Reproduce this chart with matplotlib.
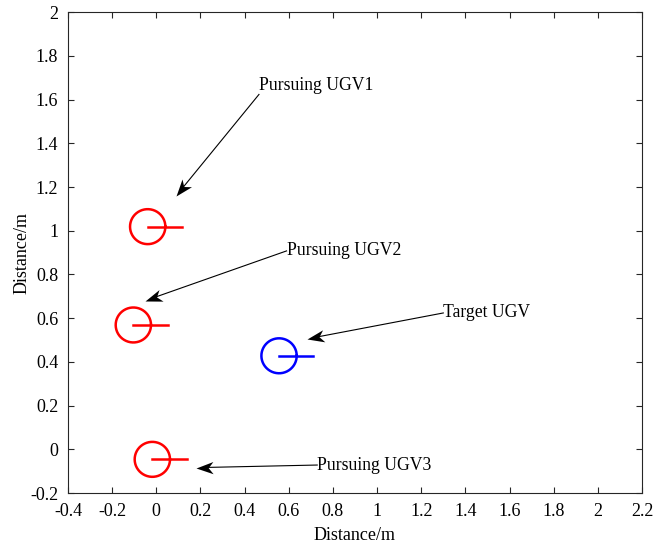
import numpy as np
import matplotlib
matplotlib.use("Agg")
import matplotlib.pyplot as plt
from matplotlib.markers import MarkerStyle
from matplotlib.path import Path
from matplotlib.transforms import Affine2D

plt.rcParams['font.family'] = ['Liberation Serif', 'DejaVu Serif']

# Vehicle states
pursuer_x = [-0.039, -0.104, -0.018]
pursuer_y = [1.019, 0.569, -0.046]
target_x = [0.556]
target_y = [0.428]
radius = 0.08
heading_len = 0.156

# Annotations: label, text position, arrow tip
labels = ["Pursuing UGV1", "Pursuing UGV2", "Target UGV", "Pursuing UGV3"]
text_x = [0.465, 0.590, 1.300, 0.729]
text_y = [1.663, 0.908, 0.624, -0.072]
tip_x = [0.089, -0.051, 0.681, 0.180]
tip_y = [1.159, 0.680, 0.505, -0.084]
rel_y = [0.0, 0.5, 0.5, 0.5]

xticks = [-0.4, -0.2, 0, 0.2, 0.4, 0.6, 0.8, 1, 1.2, 1.4, 1.6, 1.8, 2, 2.2]
yticks = [-0.2, 0, 0.2, 0.4, 0.6, 0.8, 1, 1.2, 1.4, 1.6, 1.8, 2]

fig = plt.figure(figsize=(6.55, 5.48), dpi=100)
ax = fig.add_axes([68/655, 1-493/548, (642-68)/655, (493-12.3)/548])
ax.set_xlim(-0.4, 2.2)
ax.set_ylim(-0.2, 2.0)

theta = np.linspace(0, 2*np.pi, 200)

def vehicle(x, y, color):
    ax.plot(x + radius*np.cos(theta), y + radius*np.sin(theta), color=color, lw=1.8)
    ax.plot([x, x + heading_len], [y, y], color=color, lw=1.8)

for x, y in zip(pursuer_x, pursuer_y):
    vehicle(x, y, 'red')
for x, y in zip(target_x, target_y):
    vehicle(x, y, 'blue')

ax.set_xticks(xticks)
ax.set_yticks(yticks)
ax.set_xticklabels([f"{v:g}" for v in xticks])
ax.set_yticklabels([f"{v:g}" for v in yticks])
ax.tick_params(direction='in', top=True, right=True, labelsize=13, length=4,
               width=0.8, color='#262626')
ax.tick_params(axis='x', pad=7)
ax.tick_params(axis='y', pad=7)
for s in ax.spines.values():
    s.set_linewidth(0.8)
    s.set_color('#262626')
ax.set_xlabel('Distance/m', fontsize=13, labelpad=5)
ax.set_ylabel('Distance/m', fontsize=13, labelpad=0)

fig.canvas.draw()
# arrow head shape (concave back, like MATLAB vback2)
head = Path([(0, 0), (-1, 0.36), (-0.72, 0), (-1, -0.36), (0, 0)],
            [Path.MOVETO, Path.LINETO, Path.LINETO, Path.LINETO, Path.CLOSEPOLY])

for lab, tx, ty, px, py, ry in zip(labels, text_x, text_y, tip_x, tip_y, rel_y):
    t = ax.text(tx, ty, lab, fontsize=12.7, ha='left', va='center')
    fig.canvas.draw()
    bb = t.get_window_extent()
    sx, sy = bb.x0, bb.y0 + ry*bb.height
    ex, ey = ax.transData.transform((px, py))
    ang = np.arctan2(ey - sy, ex - sx)
    start = ax.transData.inverted().transform((sx, sy))
    L = 17  # head length in px
    mid = ax.transData.inverted().transform((ex - 0.6*L*np.cos(ang), ey - 0.6*L*np.sin(ang)))
    ax.plot([start[0], mid[0]], [start[1], mid[1]], color='black', lw=0.8)
    m = MarkerStyle(head, transform=Affine2D().rotate(ang))
    ax.plot([px], [py], marker=m, markersize=L*0.72*2, color='black',
            markeredgewidth=0, linestyle='none')

fig.savefig('out.png', dpi=100)
